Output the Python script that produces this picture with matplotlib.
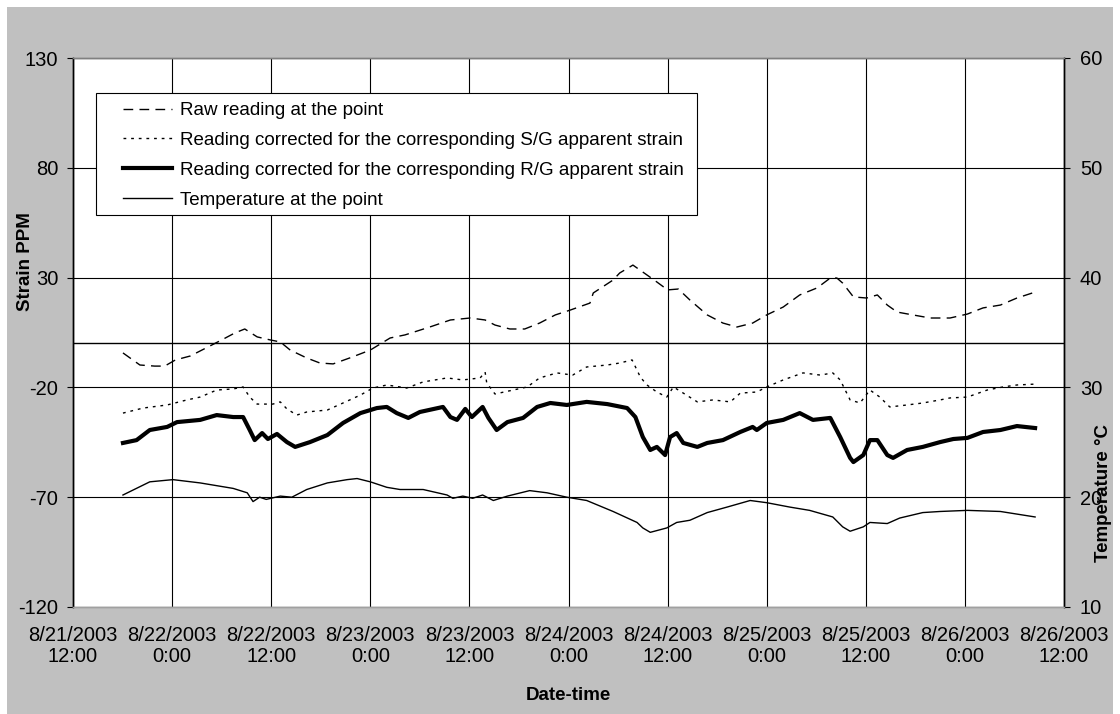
import matplotlib
matplotlib.use('Agg')
import matplotlib.pyplot as plt
import matplotlib.dates as mdates
from matplotlib.patches import Rectangle
from datetime import datetime, timedelta

plt.rcParams['font.family'] = ['Liberation Sans', 'DejaVu Sans']
plt.rcParams['axes.unicode_minus'] = False

START = datetime(2003, 8, 21, 12, 0)

# hours since 8/21/2003 12:00 -> strain (PPM)
raw_hours = [6.05, 8.1, 9.9, 11.1, 12.4, 14.2, 16.6, 18.2, 19.6, 20.8, 22.3, 23.9, 25.1,
             26.3, 28.3, 29.9, 31.5, 33.5, 36.0, 38.4, 40.2, 43.2, 45.7, 48.1, 49.9, 51.1,
             52.9, 54.7, 56.5, 58.4, 60.2, 62.6, 63.0, 65.4, 66.2, 67.8, 69.5, 70.7, 72.0,
             73.3, 74.7, 76.8, 78.7, 80.4, 82.3, 84.0, 86.0, 88.0, 90.1, 91.7, 92.5, 93.2,
             94.5, 96.1, 97.4, 98.6, 99.8, 101.7, 103.8, 106.2, 108.3, 110.2, 112.3, 114.3, 116.5]
raw_vals = [-4.3, -9.8, -10.3, -10.3, -7.5, -5.7, -1.1, 2.0, 4.8, 6.6, 3.0, 1.6, 0.7,
            -3.0, -6.6, -8.9, -9.3, -6.6, -3.0, 2.5, 3.9, 7.5, 10.7, 11.6, 10.7, 8.4,
            6.6, 6.6, 9.3, 13.0, 15.2, 18.4, 23.0, 28.9, 32.1, 35.7, 31.2, 28.0, 24.4,
            24.8, 19.8, 13.0, 9.3, 7.5, 9.3, 13.0, 16.6, 22.1, 25.3, 29.8, 29.8, 27.5,
            21.2, 20.7, 22.1, 17.5, 14.3, 13.0, 11.6, 11.6, 13.4, 16.2, 17.5, 20.7, 23.4]

sg_hours = [6.05, 8.5, 11.4, 13.8, 15.4, 17.4, 19.4, 20.6, 21.4, 22.3, 24.2, 25.1, 25.9,
            27.1, 28.3, 30.8, 32.7, 34.8, 36.3, 38.0, 39.6, 40.4, 42.4, 45.3, 47.2, 49.3,
            49.9, 50.1, 51.1, 53.3, 55.0, 56.5, 58.6, 60.5, 62.2, 64.7, 66.2, 67.7, 68.7,
            69.5, 70.7, 71.9, 72.7, 73.9, 75.6, 77.5, 79.6, 80.8, 82.8, 84.0, 86.0, 88.4,
            90.5, 92.0, 92.9, 94.1, 95.3, 96.5, 97.7, 98.9, 101.0, 102.9, 105.0, 106.2,
            108.3, 110.7, 112.6, 114.3, 116.5]
sg_vals = [-31.7, -29.4, -28.0, -25.7, -24.4, -21.2, -20.7, -19.8, -24.4, -27.6, -27.6, -26.6, -29.8,
           -32.6, -31.2, -30.3, -27.1, -23.5, -20.3, -18.9, -19.8, -20.3, -17.5, -15.7, -16.6, -15.7,
           -13.0, -18.0, -23.0, -21.2, -19.8, -15.7, -13.4, -14.4, -10.7, -9.8, -8.9, -7.5, -15.3,
           -18.9, -22.1, -24.4, -19.8, -22.6, -26.6, -25.7, -26.6, -22.6, -22.1, -19.8, -16.6, -13.4,
           -14.4, -13.4, -16.6, -25.7, -27.1, -21.2, -24.4, -28.9, -28.0, -27.1, -25.7, -24.8,
           -24.4, -21.2, -19.8, -18.9, -18.5]

rg_hours = [6.05, 7.7, 9.3, 11.4, 12.6, 15.4, 17.4, 19.4, 20.6, 21.4, 22.0, 22.9, 23.6,
            24.7, 25.9, 26.9, 28.7, 30.8, 32.7, 34.8, 36.8, 38.0, 39.2, 40.6, 42.0, 44.8,
            45.7, 46.5, 47.5, 48.3, 49.6, 50.3, 51.3, 52.6, 54.5, 56.2, 57.8, 59.8, 62.2,
            64.7, 67.1, 68.1, 69.0, 69.9, 70.7, 71.7, 72.3, 73.1, 73.9, 75.6, 76.8, 78.7,
            80.8, 82.3, 82.8, 84.0, 86.0, 88.0, 89.6, 91.7, 92.9, 94.1, 94.5, 95.7, 96.5,
            97.4, 98.6, 99.3, 101.0, 102.9, 105.0, 106.6, 108.3, 110.2, 112.3, 114.3, 116.5]
rg_vals = [-45.3, -44.0, -39.4, -38.0, -35.8, -34.8, -32.6, -33.5, -33.5, -39.4, -44.0, -40.8, -43.5,
           -41.2, -44.9, -47.1, -44.9, -41.7, -36.2, -31.7, -29.4, -28.9, -31.7, -33.9, -31.2, -28.9,
           -33.5, -34.8, -29.8, -33.5, -28.9, -33.9, -39.4, -35.8, -33.9, -28.9, -27.1, -28.0, -26.6,
           -27.6, -29.4, -33.5, -42.6, -48.5, -47.1, -50.8, -42.6, -40.8, -45.3, -47.1, -45.3, -44.0,
           -40.3, -38.0, -39.4, -36.2, -34.8, -31.7, -34.8, -33.9, -42.6, -52.1, -54.0, -50.8, -44.0,
           -44.0, -50.8, -52.1, -48.5, -47.1, -44.9, -43.5, -43.0, -40.3, -39.4, -37.6, -38.5]

# temperature (°C), right axis
temp_hours = [6.05, 9.3, 12.1, 15.4, 19.4, 21.1, 21.8, 22.6, 23.4, 25.1, 26.5, 28.3, 30.8,
              33.2, 34.4, 36.0, 38.0, 39.6, 42.4, 45.3, 46.0, 47.2, 48.4, 49.6, 50.9, 52.6,
              55.3, 57.4, 59.8, 62.2, 65.4, 68.3, 69.0, 69.9, 71.9, 73.1, 74.7, 76.8, 79.2,
              82.0, 84.0, 86.8, 89.2, 92.0, 93.2, 94.1, 95.7, 96.5, 98.6, 100.1, 102.9, 105.0,
              108.3, 112.3, 116.5]
temp_vals = [20.2, 21.4, 21.6, 21.3, 20.8, 20.4, 19.6, 20.0, 19.8, 20.1, 20.0, 20.7, 21.3,
             21.6, 21.7, 21.4, 20.9, 20.7, 20.7, 20.2, 19.9, 20.1, 19.9, 20.2, 19.7, 20.1,
             20.6, 20.4, 20.0, 19.7, 18.7, 17.7, 17.2, 16.8, 17.2, 17.7, 17.9, 18.6, 19.1,
             19.7, 19.5, 19.1, 18.8, 18.2, 17.3, 16.9, 17.3, 17.7, 17.6, 18.1, 18.6, 18.7,
             18.8, 18.7, 18.2]

LABELS = ['Raw reading at the point',
          'Reading corrected for the corresponding S/G apparent strain',
          'Reading corrected for the corresponding R/G apparent strain',
          'Temperature at the point']


def to_dt(hours):
    return [START + timedelta(hours=h) for h in hours]


def fmt_tick(x, pos=None):
    d = mdates.num2date(x)
    return f'{d.month}/{d.day}/{d.year}\n{d.hour}:{d.minute:02d}'


W, H = 1120, 714
fig = plt.figure(figsize=(W / 100, H / 100), dpi=100)
fig.patches.append(Rectangle((7 / W, 0), 1106 / W, 707 / H,
                             transform=fig.transFigure, facecolor='#c0c0c0',
                             edgecolor='none', zorder=-10))

# plot area: x 73..1064, y 58..607 (pixels)
ax = fig.add_axes([73 / W, 1 - 607 / H, 991 / W, 549 / H])
ax.set_facecolor('white')
ax2 = ax.twinx()

l1, = ax.plot(to_dt(raw_hours), raw_vals, color='black', lw=1.0, linestyle=(0, (7, 4.5)))
l2, = ax.plot(to_dt(sg_hours), sg_vals, color='black', lw=1.0, linestyle=(0, (2, 3.5)))
l3, = ax.plot(to_dt(rg_hours), rg_vals, color='black', lw=3.0, solid_joinstyle='round')
l4, = ax2.plot(to_dt(temp_hours), temp_vals, color='black', lw=1.0)

ax.set_ylim(-120, 130)
ax.set_yticks([-120, -70, -20, 30, 80, 130])
ax2.set_ylim(10, 60)
ax2.set_yticks([10, 20, 30, 40, 50, 60])

ax.set_xlim(START, START + timedelta(hours=120))
ax.xaxis.set_major_locator(mdates.HourLocator(byhour=[0, 12]))
ax.xaxis.set_major_formatter(plt.FuncFormatter(fmt_tick))

ax.grid(True, color='black', lw=0.8)
ax.axhline(0, color='black', lw=1.0)
ax.set_axisbelow(True)

for a in (ax, ax2):
    for s in a.spines.values():
        s.set_color('black')
        s.set_linewidth(1.0)
    a.spines['top'].set_color('#808080')
    a.spines['bottom'].set_color('#a0a0a0')

ax.tick_params(axis='y', labelsize=14.5, length=4.5, pad=6, direction='out')
ax.tick_params(axis='x', labelsize=14.5, length=0, pad=14)
ax2.tick_params(axis='y', labelsize=14.5, length=4.5, pad=7, direction='out')
for t in ax.get_xticklabels():
    t.set_linespacing(1.1)

fig.text(26 / W, 1 - 262 / H, 'Strain PPM', rotation=90, fontsize=13.5,
         fontweight='bold', ha='center', va='center')
fig.text(1104 / W, 1 - 493 / H, 'Temperature °C', rotation=90, fontsize=13.5,
         fontweight='bold', ha='center', va='center')
fig.text(568 / W, 1 - 696 / H, 'Date-time', fontsize=13.5,
         fontweight='bold', ha='center', va='center')

# legend box drawn separately so the inner padding matches the original
ax2.add_patch(Rectangle((23 / 991, 1 - 157 / 549), 601 / 991, 122 / 549,
                        transform=ax2.transAxes, facecolor='white',
                        edgecolor='black', lw=0.8, zorder=5))
leg = ax2.legend([l1, l2, l3, l4], LABELS, loc='upper left',
                 bbox_to_anchor=(50 / 991, 1 - 44 / 549), borderaxespad=0,
                 borderpad=0, fontsize=13.5, frameon=False,
                 handlelength=2.6, handletextpad=0.42, labelspacing=0.68)
leg.set_zorder(6)

fig.savefig('out.png', dpi=100)
